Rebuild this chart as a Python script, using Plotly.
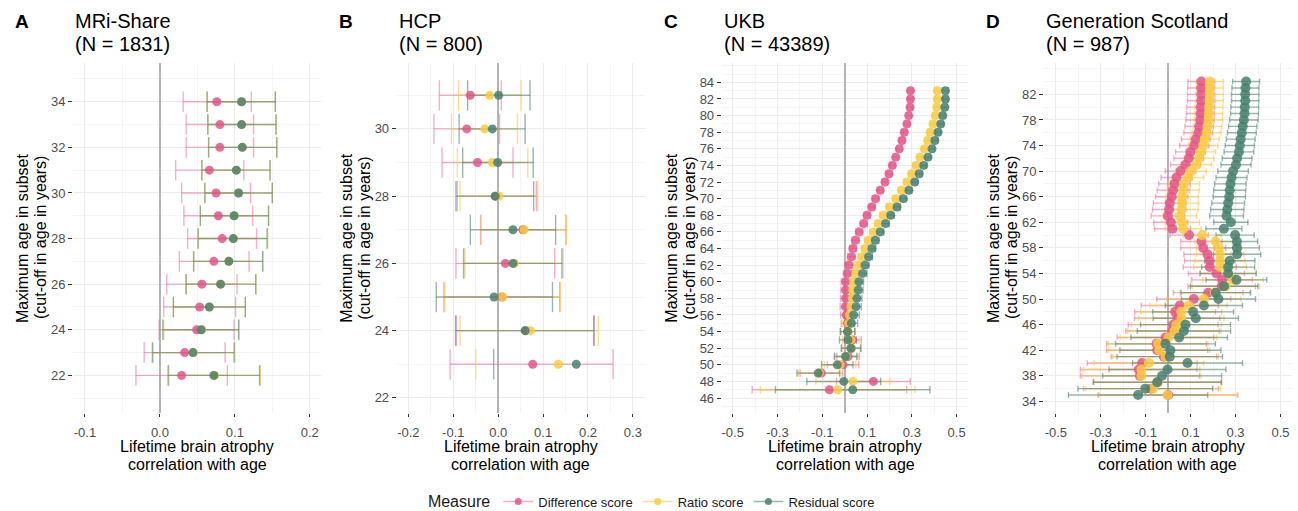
import math
import plotly.graph_objects as go

NAN = float("nan")

# ---------------- Panel A: MRi-Share ----------------
years_A = [22, 23, 24, 25, 26, 27, 28, 29, 30, 31, 32, 33, 34]
diff_A = [0.029, 0.033, 0.049, 0.053, 0.056, 0.072, 0.083, 0.078, 0.075, 0.066, 0.080, 0.080, 0.076]
diff_A_lo = [-0.032, -0.021, -0.001, 0.005, 0.009, 0.026, 0.037, 0.032, 0.029, 0.021, 0.035, 0.035, 0.031]
diff_A_hi = [0.090, 0.087, 0.099, 0.101, 0.103, 0.119, 0.129, 0.124, 0.121, 0.112, 0.125, 0.125, 0.122]
ratio_A = [0.073, 0.045, 0.056, 0.066, 0.081, 0.092, 0.098, 0.099, 0.105, 0.102, 0.110, 0.109, 0.109]
ratio_A_lo = [0.012, -0.009, 0.005, 0.018, 0.035, 0.045, 0.051, 0.054, 0.060, 0.056, 0.065, 0.064, 0.063]
ratio_A_hi = [0.134, 0.100, 0.106, 0.114, 0.128, 0.138, 0.144, 0.145, 0.150, 0.147, 0.156, 0.155, 0.154]
resid_A = [0.072, 0.044, 0.055, 0.066, 0.081, 0.092, 0.098, 0.099, 0.105, 0.102, 0.110, 0.109, 0.109]
resid_A_lo = [0.011, -0.010, 0.004, 0.018, 0.035, 0.045, 0.051, 0.054, 0.060, 0.056, 0.065, 0.064, 0.063]
resid_A_hi = [0.133, 0.099, 0.105, 0.114, 0.128, 0.137, 0.143, 0.145, 0.150, 0.147, 0.156, 0.155, 0.154]

# ---------------- Panel B: HCP ----------------
years_B = [23, 24, 25, 26, 27, 28, 29, 30, 31]
diff_B = [0.077, 0.061, 0.008, 0.016, 0.055, -0.005, -0.046, -0.070, -0.062]
diff_B_lo = [-0.107, -0.093, -0.121, -0.094, -0.039, -0.091, -0.125, -0.143, -0.131]
diff_B_hi = [0.256, 0.214, 0.137, 0.126, 0.151, 0.085, 0.033, 0.003, 0.007]
ratio_B = [0.134, 0.072, 0.010, 0.036, 0.058, 0.002, -0.013, -0.030, -0.019]
ratio_B_lo = [-0.050, -0.085, -0.119, -0.074, -0.038, -0.085, -0.091, -0.104, -0.088]
ratio_B_hi = [NAN, 0.223, 0.139, 0.145, 0.152, 0.088, 0.066, 0.043, 0.051]
resid_B = [0.174, 0.060, -0.009, 0.033, 0.033, -0.007, -0.001, -0.013, 0.001]
resid_B_lo = [-0.010, -0.095, -0.138, -0.077, -0.062, -0.094, -0.079, -0.087, -0.068]
resid_B_hi = [NAN, 0.213, 0.121, 0.142, 0.128, 0.079, 0.078, 0.060, 0.071]

# ---------------- Panel C: UKB ----------------
years_C = list(range(47, 84))
diff_C = [-0.068, 0.128, -0.104, -0.007, 0.015, 0.030, 0.036, 0.013, 0.013, 0.007,
          0.003, 0.004, 0.004, 0.004, 0.013, 0.019, 0.030, 0.037, 0.048, 0.065,
          0.085, 0.100, 0.121, 0.138, 0.159, 0.180, 0.198, 0.213, 0.228, 0.244,
          0.256, 0.266, 0.278, 0.286, 0.292, 0.294, 0.294]
ratio_C = [-0.031, 0.037, -0.112, -0.020, 0.007, 0.030, 0.028, 0.016, 0.018, 0.022,
           0.028, 0.034, 0.036, 0.040, 0.049, 0.061, 0.077, 0.091, 0.106, 0.128,
           0.150, 0.173, 0.200, 0.228, 0.253, 0.278, 0.299, 0.319, 0.336, 0.356,
           0.371, 0.382, 0.394, 0.405, 0.411, 0.414, 0.414]
resid_C = [0.036, -0.004, -0.118, -0.033, 0.004, 0.028, 0.015, 0.013, 0.030, 0.040,
           0.051, 0.055, 0.061, 0.064, 0.080, 0.091, 0.107, 0.122, 0.137, 0.159,
           0.183, 0.206, 0.234, 0.262, 0.287, 0.313, 0.333, 0.353, 0.372, 0.390,
           0.403, 0.417, 0.429, 0.438, 0.447, 0.450, 0.450]
halfci_C = [0.345, 0.165, 0.095, 0.070, 0.050, 0.043, 0.038, 0.032, 0.028, 0.025,
            0.023, 0.022, 0.021, 0.020, 0.019, 0.018, 0.017, 0.016, 0.016, 0.015,
            0.015, 0.014, 0.014, 0.014, 0.013, 0.013, 0.013, 0.013, 0.012, 0.012,
            0.012, 0.012, 0.012, 0.012, 0.012, 0.012, 0.012]

# ---------------- Panel D: Generation Scotland ----------------
years_D = list(range(35, 85))
diff_D = [0.000, -0.077, -0.047, -0.126, -0.131, -0.116, -0.019, -0.049, -0.052, -0.012,
          0.019, 0.022, 0.040, 0.031, 0.052, 0.114, 0.178, 0.238, 0.240, 0.215,
          0.185, 0.185, 0.175, 0.156, 0.148, 0.093, 0.019, 0.012, -0.001, 0.004,
          0.007, 0.016, 0.022, 0.028, 0.037, 0.055, 0.077, 0.092, 0.099, 0.116,
          0.123, 0.134, 0.138, 0.142, 0.144, 0.145, 0.147, 0.147, 0.147, 0.148]
ratio_D = [-0.003, -0.067, -0.047, -0.119, -0.119, -0.086, -0.012, -0.040, -0.045, 0.001,
           0.028, 0.036, 0.059, 0.058, 0.091, 0.159, 0.208, 0.257, 0.289, 0.267,
           0.231, 0.231, 0.231, 0.226, 0.211, 0.151, 0.067, 0.063, 0.052, 0.059,
           0.062, 0.062, 0.067, 0.070, 0.089, 0.102, 0.126, 0.138, 0.145, 0.156,
           0.163, 0.171, 0.175, 0.180, 0.181, 0.182, 0.184, 0.184, 0.185, 0.185]
resid_D = [-0.134, -0.102, -0.049, -0.027, -0.003, 0.086, 0.007, 0.010, -0.012, 0.049,
           0.070, 0.077, 0.123, 0.111, 0.159, 0.224, 0.212, 0.249, 0.304, 0.267,
           0.267, 0.274, 0.307, 0.306, 0.306, 0.298, 0.248, 0.279, 0.260, 0.263,
           0.267, 0.272, 0.274, 0.277, 0.282, 0.289, 0.302, 0.307, 0.315, 0.319,
           0.323, 0.328, 0.332, 0.337, 0.340, 0.341, 0.343, 0.343, 0.344, 0.347]
halfci_D = [0.310, 0.300, 0.285, 0.265, 0.260, 0.245, 0.235, 0.225, 0.222, 0.215,
            0.208, 0.200, 0.190, 0.180, 0.172, 0.165, 0.155, 0.150, 0.135, 0.125,
            0.118, 0.112, 0.105, 0.100, 0.092, 0.085, 0.080, 0.076, 0.075, 0.074,
            0.073, 0.072, 0.071, 0.070, 0.069, 0.068, 0.067, 0.066, 0.066, 0.065,
            0.064, 0.064, 0.063, 0.063, 0.062, 0.062, 0.061, 0.061, 0.060, 0.060]

measures = ["Difference score", "Ratio score", "Residual score"]
panel_letters = ["A", "B", "C", "D"]
panel_titles = ["MRi-Share", "HCP", "UKB", "Generation Scotland"]
panel_ns = ["(N = 1831)", "(N = 800)", "(N = 43389)", "(N = 987)"]

# ---------------- styling ----------------
W, H = 1298, 511
FONT = "Liberation Sans, Arial, Helvetica, sans-serif"
PT_COL = ["rgba(229,84,136,0.85)", "rgba(250,202,62,0.85)", "rgba(70,128,110,0.85)"]
EB_COL = ["rgba(236,110,155,0.55)", "rgba(250,200,60,0.6)", "rgba(85,135,118,0.6)"]

panel_px = [(73, 321), (396.7, 645), (721.7, 968.3), (1044, 1291.7)]
top_px, bot_px = 63, 413
x_ranges = [[-0.116, 0.215], [-0.226, 0.327], [-0.549, 0.552], [-0.553, 0.550]]
y_ranges = [[20.35, 35.7], [21.55, 31.96], [44.2, 86.33], [32.19, 86.9]]
x_ticks = [[-0.1, 0.0, 0.1, 0.2], [-0.2, -0.1, 0.0, 0.1, 0.2, 0.3],
           [-0.5, -0.3, -0.1, 0.1, 0.3, 0.5], [-0.5, -0.3, -0.1, 0.1, 0.3, 0.5]]
x_minor = [0.05, 0.05, 0.1, 0.1]
x_minor0 = [-0.05, -0.05, -0.4, -0.4]
y_ticks = [list(range(22, 35, 2)), list(range(22, 31, 2)), list(range(46, 85, 2)), list(range(34, 83, 4))]
y_minor = [1, 1, 1, 2]
point_size = [9, 9, 9, 10]
CAP = 0.45


def fmt(v):
    return "0.0" if abs(v) < 1e-9 else ("%.1f" % v)


def errbar_path(lo, hi, yrs):
    xs, ys = [], []
    for l, h, y in zip(lo, hi, yrs):
        if math.isnan(h):
            xs += [l, l, None]
            ys += [y - CAP, y + CAP, None]
            continue
        xs += [l, h, None, l, l, None, h, h, None]
        ys += [y, y, None, y - CAP, y + CAP, None, y - CAP, y + CAP, None]
    return xs, ys


panels = [
    (years_A, [(diff_A, diff_A_lo, diff_A_hi), (ratio_A, ratio_A_lo, ratio_A_hi), (resid_A, resid_A_lo, resid_A_hi)]),
    (years_B, [(diff_B, diff_B_lo, diff_B_hi), (ratio_B, ratio_B_lo, ratio_B_hi), (resid_B, resid_B_lo, resid_B_hi)]),
    (years_C, [(s, [v - h for v, h in zip(s, halfci_C)], [v + h for v, h in zip(s, halfci_C)])
               for s in (diff_C, ratio_C, resid_C)]),
    (years_D, [(s, [v - h for v, h in zip(s, halfci_D)], [v + h for v, h in zip(s, halfci_D)])
               for s in (diff_D, ratio_D, resid_D)]),
]

fig = go.Figure()
annotations = []
layout_axes = {}

for p, (yrs, series) in enumerate(panels):
    ax = "" if p == 0 else str(p + 1)
    xa, ya = "x" + ax, "y" + ax
    # error bars first
    for s, (est, lo, hi) in enumerate(series):
        xs, ys = errbar_path(lo, hi, yrs)
        fig.add_trace(go.Scatter(x=xs, y=ys, mode="lines", xaxis=xa, yaxis=ya,
                                 line=dict(color=EB_COL[s], width=1.4),
                                 showlegend=False, hoverinfo="skip"))
    for s, (est, lo, hi) in enumerate(series):
        fig.add_trace(go.Scatter(x=est, y=yrs, mode="markers", xaxis=xa, yaxis=ya,
                                 marker=dict(color=PT_COL[s], size=point_size[p], line=dict(width=0)),
                                 showlegend=False, name=measures[s]))

    x0, x1 = panel_px[p]
    layout_axes["xaxis" + ax] = dict(
        domain=[x0 / W, x1 / W], anchor=ya, range=x_ranges[p],
        tickvals=x_ticks[p], ticktext=[fmt(v) for v in x_ticks[p]],
        showgrid=True, gridcolor="#EBEBEB", gridwidth=1.2,
        minor=dict(tick0=x_minor0[p], dtick=x_minor[p], showgrid=True, gridcolor="#F4F4F4", gridwidth=0.8, ticklen=0),
        zeroline=True, zerolinecolor="#B4B4B4", zerolinewidth=1.6,
        ticks="outside", ticklen=3, tickcolor="#333333", tickwidth=1,
        ticklabelstandoff=4, automargin=False,
        tickfont=dict(size=13, color="#4D4D4D", family=FONT),
        showline=False, fixedrange=True)
    layout_axes["yaxis" + ax] = dict(
        domain=[1 - bot_px / H, 1 - top_px / H], anchor=xa, range=y_ranges[p],
        tickvals=y_ticks[p], ticktext=[str(v) for v in y_ticks[p]],
        showgrid=True, gridcolor="#EBEBEB", gridwidth=1.2,
        minor=dict(dtick=y_minor[p], tick0=0, showgrid=True, gridcolor="#F4F4F4", gridwidth=0.8, ticklen=0),
        zeroline=False, automargin=False,
        ticks="outside", ticklen=4, tickcolor="#333333", tickwidth=1,
        tickfont=dict(size=13, color="#4D4D4D", family=FONT),
        showline=False, fixedrange=True)

    cx = (x0 + x1) / 2
    # panel letter and title
    annotations.append(dict(text="<b>%s</b>" % panel_letters[p], x=(x0 - 60) / W, y=1 - 21.3 / H,
                            xref="paper", yref="paper", xanchor="left", yanchor="middle",
                            showarrow=False, font=dict(size=19, color="#000000", family=FONT)))
    annotations.append(dict(text=panel_titles[p], x=x0 / W, y=1 - 21.3 / H,
                            xref="paper", yref="paper", xanchor="left", yanchor="middle",
                            showarrow=False, font=dict(size=20, color="#000000", family=FONT)))
    annotations.append(dict(text=panel_ns[p], x=x0 / W, y=1 - 43.5 / H,
                            xref="paper", yref="paper", xanchor="left", yanchor="middle",
                            showarrow=False, font=dict(size=20, color="#000000", family=FONT)))
    # x title
    annotations.append(dict(text="Lifetime brain atrophy", x=cx / W, y=1 - 446 / H,
                            xref="paper", yref="paper", xanchor="center", yanchor="middle",
                            showarrow=False, font=dict(size=16, color="#000000", family=FONT)))
    annotations.append(dict(text="correlation with age", x=cx / W, y=1 - 464 / H,
                            xref="paper", yref="paper", xanchor="center", yanchor="middle",
                            showarrow=False, font=dict(size=16, color="#000000", family=FONT)))
    # y title
    ymid = 1 - ((top_px + bot_px) / 2) / H
    annotations.append(dict(text="Maximum age in subset", x=(x0 - 51) / W, y=ymid,
                            xref="paper", yref="paper", xanchor="center", yanchor="middle",
                            textangle=-90, showarrow=False,
                            font=dict(size=16, color="#000000", family=FONT)))
    annotations.append(dict(text="(cut-off in age in years)", x=(x0 - 33) / W, y=ymid,
                            xref="paper", yref="paper", xanchor="center", yanchor="middle",
                            textangle=-90, showarrow=False,
                            font=dict(size=16, color="#000000", family=FONT)))

# legend-only traces
for s in range(3):
    fig.add_trace(go.Scatter(x=[None], y=[None], mode="lines+markers", name=measures[s],
                             line=dict(color=EB_COL[s], width=1.4),
                             marker=dict(color=PT_COL[s], size=7), showlegend=True))

fig.update_layout(
    width=W, height=H, margin=dict(l=0, r=0, t=0, b=0, autoexpand=False),
    paper_bgcolor="white", plot_bgcolor="white",
    font=dict(family=FONT, color="#000000"),
    annotations=annotations,
    showlegend=True,
    legend=dict(orientation="h", x=0.503, xanchor="center", y=1 - 502 / H, yanchor="middle",
                title=dict(text="Measure", side="left", font=dict(size=16, family=FONT)),
                font=dict(size=13, family=FONT, color="#1a1a1a"), itemwidth=30,
                bgcolor="rgba(0,0,0,0)"),
    **layout_axes,
)

fig.write_html("out.html")
